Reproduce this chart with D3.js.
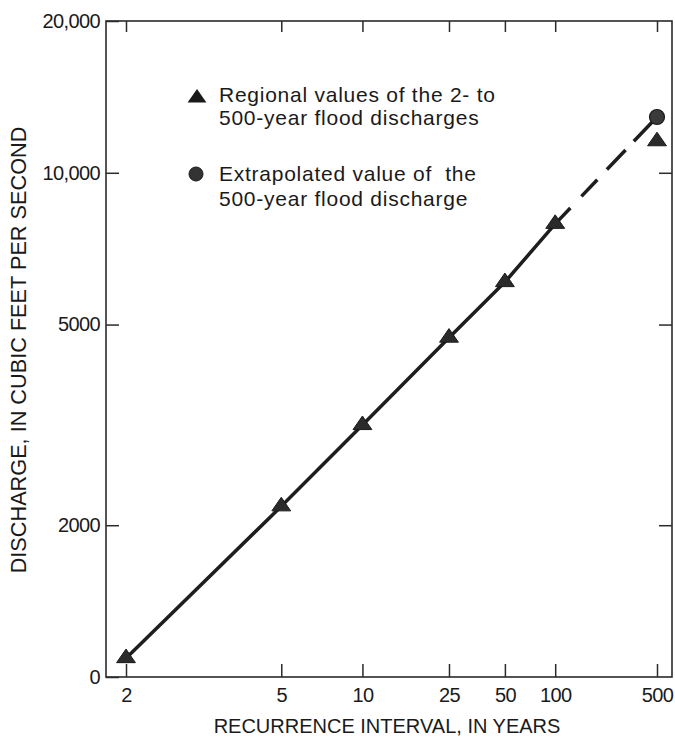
<!DOCTYPE html>
<html>
<head>
<meta charset="utf-8">
<script src="https://cdn.jsdelivr.net/npm/d3@7"></script>
<style>
  body { margin: 0; background: #fff; }
  svg text { font-family: "Liberation Sans", Arial, Helvetica, sans-serif; fill: #1a1a1a; }
</style>
</head>
<body>
<script>
// recurrence intervals, in years (tick labels on the probability axis)
var intervals = [2, 5, 10, 25, 50, 100, 500];
// regional flood discharges, cubic feet per second
var regional = [1090, 2180, 3160, 4710, 6070, 7920, 11550];
// extrapolated 500-year value
var extrapInterval = 500;
var extrapValue = 12900;
// dashed extension from the 100-year value to the extrapolated one
var extIntervals = [100, 500];
var extValues = [7920, 12900];
// y axis ticks and labels
var yTicks = [1000, 2000, 5000, 10000, 20000];
var yLabels = ["0", "2000", "5000", "10,000", "20,000"];

// inverse of the standard normal cdf (Acklam)
function probit(p) {
  var a = [-39.69683028665376, 220.9460984245205, -275.9285104469687, 138.3577518672690, -30.66479806614716, 2.506628277459239],
      b = [-54.47609879822406, 161.5858368580409, -155.6989798598866, 66.80131188771972, -13.28068155288572],
      c = [-0.007784894002430293, -0.3223964580411365, -2.400758277161838, -2.549732539343734, 4.374664141464968, 2.938163982698783],
      d = [0.007784695709041462, 0.3224671290700398, 2.445134137142996, 3.754408661907416];
  var q, r;
  if (p < 0.02425) {
    q = Math.sqrt(-2 * Math.log(p));
    return (((((c[0]*q+c[1])*q+c[2])*q+c[3])*q+c[4])*q+c[5]) / ((((d[0]*q+d[1])*q+d[2])*q+d[3])*q+1);
  } else if (p <= 1 - 0.02425) {
    q = p - 0.5; r = q * q;
    return (((((a[0]*r+a[1])*r+a[2])*r+a[3])*r+a[4])*r+a[5])*q / (((((b[0]*r+b[1])*r+b[2])*r+b[3])*r+b[4])*r+1);
  }
  q = Math.sqrt(-2 * Math.log(1 - p));
  return -(((((c[0]*q+c[1])*q+c[2])*q+c[3])*q+c[4])*q+c[5]) / ((((d[0]*q+d[1])*q+d[2])*q+d[3])*q+1);
}
function zOf(T) { return probit(1 - 1 / T); }

var W = 675, H = 741;
var frameL = 106, frameR = 672, frameT = 21, frameB = 677;

var svg = d3.select("body").append("svg")
    .attr("width", W)
    .attr("height", H);

// normal probability scale for recurrence interval
var x = d3.scaleLinear()
    .domain([zOf(2), zOf(500)])
    .range([126, 657]);
var y = d3.scaleLog()
    .domain([1000, 20000])
    .range([frameB, frameT]);

function px(T) { return x(zOf(T)); }

var zTicks = intervals.map(zOf);
var fmtX = function(z, i) { return intervals[i]; };

// frame
svg.append("rect")
    .attr("x", frameL).attr("y", frameT)
    .attr("width", frameR - frameL).attr("height", frameB - frameT)
    .attr("fill", "none").attr("stroke", "#2a2a2a").attr("stroke-width", 1.6);

var axisStyle = function(g) {
  g.attr("font-size", 20).attr("font-family", "Liberation Sans, Arial, sans-serif");
  g.select(".domain").remove();
  g.selectAll(".tick line").attr("stroke", "#2a2a2a").attr("stroke-width", 1.5);
  g.selectAll(".tick text").attr("fill", "#1a1a1a").attr("letter-spacing", -0.6);
};

svg.append("g")
    .attr("transform", "translate(0," + frameB + ")")
    .call(d3.axisBottom(x).tickValues(zTicks).tickFormat(fmtX).tickSize(-13).tickPadding(11))
    .call(axisStyle);

svg.append("g")
    .attr("transform", "translate(0," + frameT + ")")
    .call(d3.axisTop(x).tickValues(zTicks).tickFormat("").tickSize(-11))
    .call(axisStyle);

svg.append("g")
    .attr("transform", "translate(" + frameL + ",0)")
    .call(d3.axisLeft(y).tickValues(yTicks).tickFormat(function(d, i) { return yLabels[i]; }).tickSize(-13).tickPadding(6))
    .call(axisStyle);

svg.append("g")
    .attr("transform", "translate(" + frameR + ",0)")
    .call(d3.axisRight(y).tickValues(yTicks.slice(1, 4)).tickFormat("").tickSize(-13))
    .call(axisStyle);

// axis titles
svg.append("text")
    .attr("x", 387).attr("y", 733)
    .attr("text-anchor", "middle")
    .attr("font-size", 20)
    .text("RECURRENCE INTERVAL, IN YEARS");

svg.append("text")
    .attr("transform", "translate(26,350) rotate(-90)")
    .attr("text-anchor", "middle")
    .attr("font-size", 21.7)
    .text("DISCHARGE, IN CUBIC FEET PER SECOND");

// line through the regional values, then dashed to the extrapolated value
var line = d3.line()
    .x(function(d) { return px(d[0]); })
    .y(function(d) { return y(d[1]); });

svg.append("path")
    .datum(intervals.slice(0, 6).map(function(t, i) { return [t, regional[i]]; }))
    .attr("d", line)
    .attr("fill", "none").attr("stroke", "#1e1e1e").attr("stroke-width", 3.5)
    .attr("stroke-linejoin", "round");

svg.append("path")
    .datum(extIntervals.map(function(t, i) { return [t, extValues[i]]; }))
    .attr("d", line)
    .attr("fill", "none").attr("stroke", "#1e1e1e").attr("stroke-width", 3.5)
    .attr("stroke-dasharray", "22,16,23,14,27,12,60");

// triangle symbol, wider than tall
var wideTriangle = {
  draw: function(ctx, size) {
    var w = Math.sqrt(size) * 1.3, h = w * 0.72;
    ctx.moveTo(0, -h * 2 / 3);
    ctx.lineTo(w / 2, h / 3);
    ctx.lineTo(-w / 2, h / 3);
    ctx.closePath();
  }
};
var tri = d3.symbol().type(wideTriangle).size(210);

svg.append("g").selectAll("path")
    .data(intervals)
    .enter().append("path")
    .attr("d", tri)
    .attr("transform", function(d, i) { return "translate(" + px(d) + "," + y(regional[i]) + ")"; })
    .attr("fill", "#2b2b2b").attr("stroke", "#1a1a1a").attr("stroke-width", 1);

svg.append("circle")
    .attr("cx", px(extrapInterval)).attr("cy", y(extrapValue))
    .attr("r", 7.5)
    .attr("fill", "#3a3a3a").attr("stroke", "#1a1a1a").attr("stroke-width", 1.2);

// legend
var legend = svg.append("g");
legend.append("path")
    .attr("d", tri)
    .attr("transform", "translate(197,98)")
    .attr("fill", "#1a1a1a");
legend.append("circle")
    .attr("cx", 196).attr("cy", 174).attr("r", 7)
    .attr("fill", "#333").attr("stroke", "#1a1a1a");

var legendLines = [
  ["Regional values of the 2- to", 102],
  ["500-year flood discharges", 125],
  ["Extrapolated value of  the", 181],
  ["500-year flood discharge", 206]
];
legend.selectAll("text.leg")
    .data(legendLines)
    .enter().append("text")
    .attr("class", "leg")
    .attr("x", 219)
    .attr("y", function(d) { return d[1]; })
    .attr("font-size", 21)
    .attr("letter-spacing", 0.75)
    .attr("xml:space", "preserve")
    .style("white-space", "pre")
    .text(function(d) { return d[0]; });
</script>
</body>
</html>
